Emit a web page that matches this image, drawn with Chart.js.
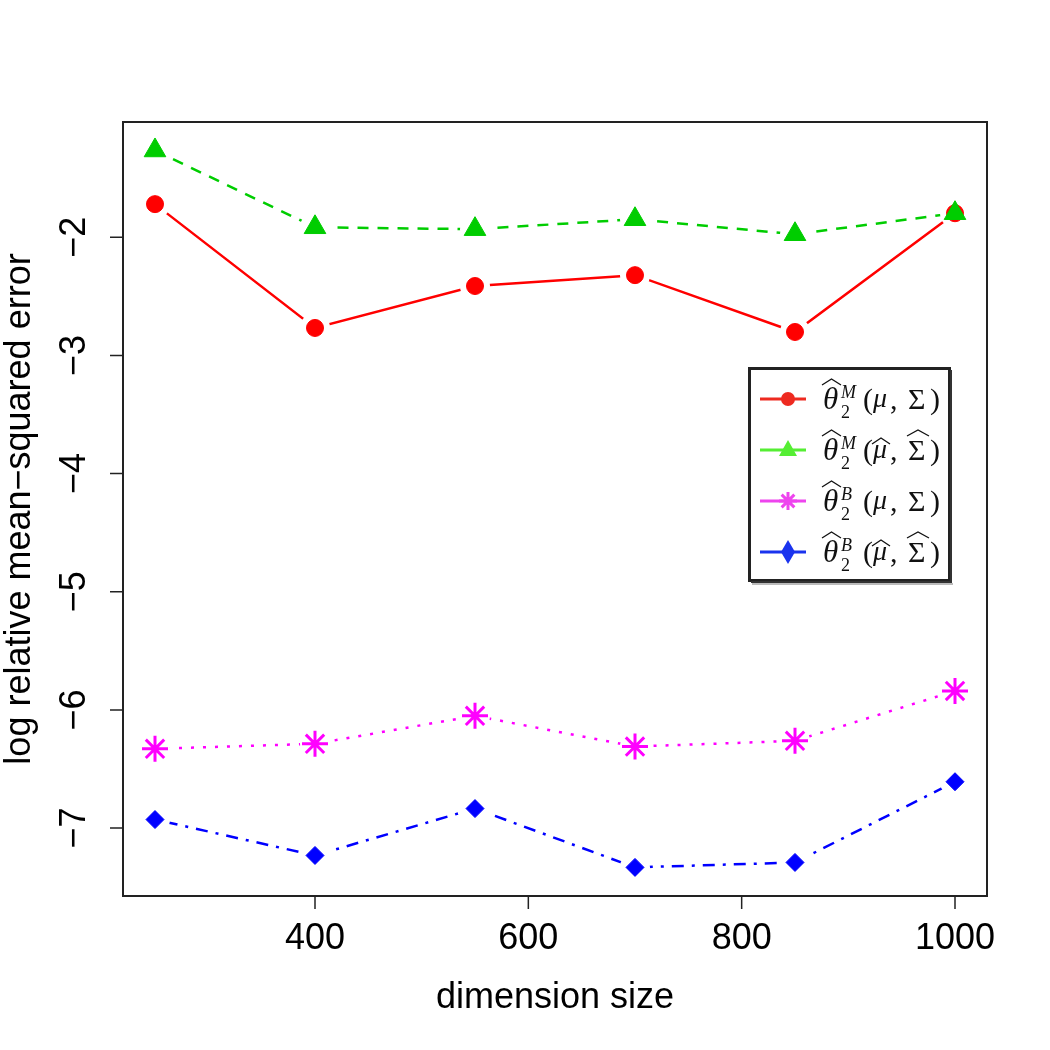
<!DOCTYPE html>
<html>
<head>
<meta charset="utf-8">
<script src="https://cdn.jsdelivr.net/npm/chart.js@4/dist/chart.umd.min.js"></script>
<style>
  html, body { margin: 0; padding: 0; background: #ffffff; }
  #c { display: block; }
</style>
</head>
<body>
<canvas id="c" width="1050" height="1050"></canvas>
<script>
// ---- data ----
const dims = [250, 400, 550, 700, 850, 1000];
const thetaM_true = [-1.720, -2.768, -2.413, -2.321, -2.802, -1.797];
const thetaM_est  = [-1.266, -1.916, -1.932, -1.848, -1.975, -1.797];
const thetaB_true = [-6.329, -6.287, -6.050, -6.310, -6.262, -5.840];
const thetaB_est  = [-6.928, -7.232, -6.835, -7.333, -7.291, -6.608];
const xTicks = [400, 600, 800, 1000];
const yTicks = [-7, -6, -5, -4, -3, -2];
const xTitle = 'dimension size';
const yTitle = 'log relative mean\u2212squared error';

const series = [
  { vals: thetaM_true, color: '#ff0000', legendColor: '#ee2a20', dash: [], style: 'circle', radius: 8.5, bw: 1, sup: 'M', hat: false },
  { vals: thetaM_est,  color: '#00cd00', legendColor: '#55ee33', dash: [11, 9], style: 'triangle', radius: 12.5, bw: 1, sup: 'M', hat: true },
  { vals: thetaB_true, color: '#ff00ff', legendColor: '#ee44ee', dash: [3, 9], style: 'star', radius: 13, bw: 3, sup: 'B', hat: false },
  { vals: thetaB_est,  color: '#0000ff', legendColor: '#1a33ee', dash: [3, 8, 12, 8], style: 'rectRot', radius: 9, bw: 1, sup: 'B', hat: true }
];

const toPts = v => dims.map((d, i) => ({ x: d, y: v[i] }));

const datasets = [];
series.forEach((s, i) => {
  datasets.push({
    isLine: true, order: 20 - i, data: toPts(s.vals), borderColor: s.color, borderWidth: 2.5,
    borderDash: s.dash, pointRadius: 0, pointHoverRadius: 0, tension: 0, fill: false
  });
});
series.forEach((s, i) => {
  datasets.push({
    order: 10 - i,
    data: toPts(s.vals), showLine: false, pointStyle: s.style, pointRadius: s.radius,
    pointHoverRadius: s.radius, pointBackgroundColor: s.color, pointBorderColor: s.color,
    pointBorderWidth: s.bw
  });
});

// gaps around points (like R type = "b")
const gapPlugin = {
  id: 'gaps',
  beforeDatasetDraw(chart, args) {
    const ds = chart.data.datasets[args.index];
    if (!ds.isLine) return;
    const ctx = chart.ctx;
    ctx.save();
    ctx.beginPath();
    ctx.rect(0, 0, chart.width, chart.height);
    args.meta.data.forEach(p => {
      ctx.moveTo(p.x + 15, p.y);
      ctx.arc(p.x, p.y, 15, 0, Math.PI * 2);
    });
    ctx.clip('evenodd');
  },
  afterDatasetDraw(chart, args) {
    const ds = chart.data.datasets[args.index];
    if (!ds.isLine) return;
    chart.ctx.restore();
  }
};

function hat(ctx, x0, x1, yb, h) {
  ctx.beginPath();
  ctx.moveTo(x0, yb);
  ctx.lineTo((x0 + x1) / 2, yb - h);
  ctx.lineTo(x1, yb);
  ctx.stroke();
}

function drawMarker(ctx, s, x, y) {
  ctx.save();
  ctx.fillStyle = s.legendColor;
  ctx.strokeStyle = s.legendColor;
  ctx.beginPath();
  if (s.style === 'circle') {
    ctx.arc(x, y, 7, 0, Math.PI * 2); ctx.fill();
  } else if (s.style === 'triangle') {
    ctx.moveTo(x, y - 10); ctx.lineTo(x + 9, y + 6); ctx.lineTo(x - 9, y + 6); ctx.closePath(); ctx.fill();
  } else if (s.style === 'star') {
    ctx.lineWidth = 3;
    for (let k = 0; k < 4; k++) {
      const a = k * Math.PI / 4;
      ctx.moveTo(x - 9 * Math.cos(a), y - 9 * Math.sin(a));
      ctx.lineTo(x + 9 * Math.cos(a), y + 9 * Math.sin(a));
    }
    ctx.stroke();
  } else {
    ctx.moveTo(x, y - 12); ctx.lineTo(x + 7, y); ctx.lineTo(x, y + 12); ctx.lineTo(x - 7, y); ctx.closePath(); ctx.fill();
  }
  ctx.restore();
}

const decoPlugin = {
  id: 'deco',
  afterDraw(chart) {
    const ctx = chart.ctx;
    const a = chart.chartArea;
    const xs = chart.scales.x, ys = chart.scales.y;
    ctx.save();
    // box
    ctx.strokeStyle = '#222';
    ctx.lineWidth = 2;
    ctx.strokeRect(a.left, a.top, a.right - a.left, a.bottom - a.top);
    // ticks
    ctx.lineWidth = 1.5;
    ctx.beginPath();
    xTicks.forEach(v => { const px = xs.getPixelForValue(v); ctx.moveTo(px, a.bottom); ctx.lineTo(px, a.bottom + 13); });
    yTicks.forEach(v => { const py = ys.getPixelForValue(v); ctx.moveTo(a.left, py); ctx.lineTo(a.left - 13, py); });
    ctx.stroke();
    // tick labels
    ctx.fillStyle = '#000';
    ctx.font = '36px "Liberation Sans", Arial, sans-serif';
    ctx.textAlign = 'center';
    ctx.textBaseline = 'middle';
    xTicks.forEach(v => ctx.fillText(String(v), xs.getPixelForValue(v), 939));
    yTicks.forEach(v => {
      ctx.save();
      ctx.translate(75, ys.getPixelForValue(v));
      ctx.rotate(-Math.PI / 2);
      ctx.fillText(v < 0 ? '\u2212' + Math.abs(v) : String(v), 0, 0);
      ctx.restore();
    });
    // titles
    ctx.fillText(xTitle, (a.left + a.right) / 2, 998);
    ctx.save();
    ctx.translate(20, (a.top + a.bottom) / 2);
    ctx.rotate(-Math.PI / 2);
    ctx.fillText(yTitle, 0, 0);
    ctx.restore();

    // legend box
    ctx.fillStyle = '#ffffff';
    ctx.fillRect(749, 368, 202, 213);
    ctx.strokeStyle = '#bbb';
    ctx.lineWidth = 2;
    ctx.beginPath(); ctx.moveTo(752, 584); ctx.lineTo(953, 584); ctx.stroke();
    ctx.strokeStyle = '#222';
    ctx.lineWidth = 3;
    ctx.strokeRect(749.5, 368.5, 200, 212);
    ctx.strokeStyle = '#333';
    ctx.lineWidth = 2;
    ctx.beginPath(); ctx.moveTo(951, 370); ctx.lineTo(951, 582); ctx.lineTo(751, 582); ctx.stroke();

    const rows = [399, 450, 501, 552];
    series.forEach((s, i) => {
      const y = rows[i];
      ctx.save();
      ctx.strokeStyle = s.legendColor;
      ctx.lineWidth = 3;
      ctx.beginPath(); ctx.moveTo(760, y); ctx.lineTo(806, y); ctx.stroke();
      ctx.restore();
      drawMarker(ctx, s, 788, y);
      // math label
      ctx.save();
      ctx.fillStyle = '#111';
      ctx.strokeStyle = '#111';
      ctx.lineWidth = 1.3;
      ctx.textAlign = 'left';
      ctx.textBaseline = 'alphabetic';
      const base = y + 10;
      ctx.font = 'italic 31px "Liberation Serif", "DejaVu Serif", serif';
      ctx.fillText('\u03b8', 823, base);
      hat(ctx, 822, 841, y - 14, 6);
      ctx.font = 'italic 18px "Liberation Serif", "DejaVu Serif", serif';
      ctx.fillText(s.sup, 841, y - 1);
      ctx.font = '18px "Liberation Serif", "DejaVu Serif", serif';
      ctx.fillText('2', 841, y + 19);
      ctx.font = '30px "Liberation Serif", "DejaVu Serif", serif';
      ctx.fillText('(', 863, base);
      ctx.font = 'italic 28px "Liberation Serif", "DejaVu Serif", serif';
      ctx.fillText('\u03bc', 873, base - 2);
      ctx.font = '30px "Liberation Serif", "DejaVu Serif", serif';
      ctx.fillText(',', 890, base);
      ctx.fillText('\u03a3', 908, base);
      ctx.fillText(')', 930, base);
      if (s.hat) {
        hat(ctx, 872, 890, y - 6, 6);
        hat(ctx, 907, 929, y - 14, 6);
      }
      ctx.restore();
    });
    ctx.restore();
  }
};

new Chart(document.getElementById('c'), {
  type: 'line',
  data: { datasets },
  options: {
    responsive: false,
    animation: false,
    devicePixelRatio: 1,
    layout: { padding: { left: 123, top: 122, right: 63, bottom: 154 } },
    scales: {
      x: { type: 'linear', display: false, min: 220, max: 1030 },
      y: { type: 'linear', display: false, min: -7.575, max: -1.025 }
    },
    plugins: { legend: { display: false }, tooltip: { enabled: false } },
    events: []
  },
  plugins: [gapPlugin, decoPlugin]
});
</script>
</body>
</html>
